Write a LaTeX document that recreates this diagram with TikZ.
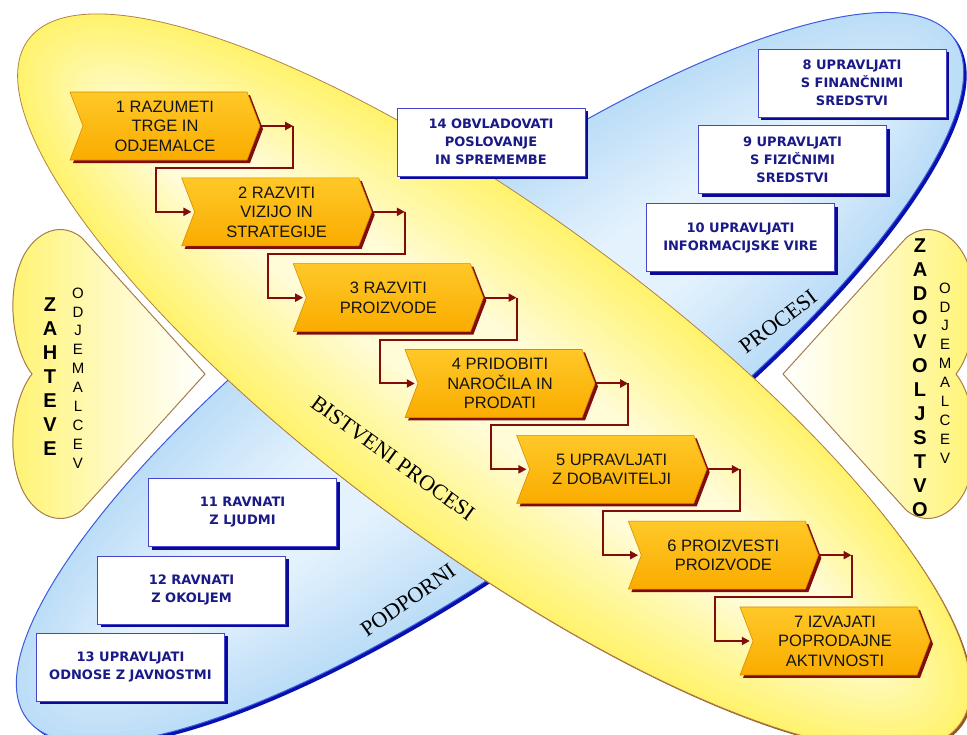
\documentclass[tikz,border=0pt]{standalone}
\usepackage{fontspec}
\setmainfont{Liberation Sans}
\newfontfamily\boxfont{DejaVu Sans}
\newfontfamily\labelserif{Liberation Serif}
\usetikzlibrary{arrows.meta,calc}

\definecolor{yedge}{RGB}{255,243,110}
\definecolor{yinner}{RGB}{255,252,215}
\definecolor{bedge}{RGB}{188,221,247}
\definecolor{binner}{RGB}{228,242,253}
\definecolor{bshadow}{RGB}{8,16,176}
\definecolor{bline}{RGB}{60,90,220}
\definecolor{yline}{RGB}{176,130,70}
\definecolor{yshadow}{RGB}{150,85,30}
\definecolor{heartline}{RGB}{165,125,75}
\definecolor{chevtop}{RGB}{255,200,40}
\definecolor{chevbot}{RGB}{250,172,0}
\definecolor{chevline}{RGB}{215,140,0}
\definecolor{maroon}{RGB}{130,12,12}
\definecolor{boxline}{RGB}{70,70,205}
\definecolor{boxshadow}{RGB}{10,10,150}
\definecolor{boxtext}{RGB}{25,25,135}
\definecolor{chevtext}{RGB}{20,20,20}

\begin{document}
\begin{tikzpicture}[x=1pt,y=-1pt,
  chevlabel/.style={align=center, font=\fontsize{16.5}{19.5}\selectfont,
    text=chevtext, minimum width=190pt, minimum height=68pt, inner sep=0pt},
  procbox/.style={draw=boxline, line width=1pt, fill=white,
    minimum width=188pt, minimum height=68pt, inner sep=0pt, align=center,
    font=\boxfont\bfseries\fontsize{13}{18}\selectfont, text=boxtext,
    preaction={fill=boxshadow, transform canvas={xshift=3pt,yshift=-3pt}}},
  conn/.style={draw=maroon, line width=2pt, -{Triangle[length=8pt,width=8pt]}},
  bigletters/.style={align=center, font=\bfseries\fontsize{20}{24}\selectfont, text=black},
  smallletters/.style={align=center, font=\fontsize{15}{18.9}\selectfont, text=black},
  rotlabel/.style={font=\labelserif\fontsize{22}{22}\selectfont, text=black, inner sep=0pt},
  heart/.style={draw=heartline, line width=1pt}
]
\useasboundingbox (0,0) rectangle (967,734);
\clip (0,0) rectangle (967,734);

% supporting processes: blue ellipse with its dark shadow edge
\fill[bshadow, rotate around={36.3:(493,381)}] (493,381) ellipse [x radius=575, y radius=165];
\foreach \k in {0,...,30} {
  \pgfmathsetmacro\d{\k*4}
  \pgfmathtruncatemacro\p{\k*100/30}
  \fill[binner!\p!bedge, rotate around={36.3:(490,378)}] (490,378) ellipse [x radius={575-\d}, y radius={165-\d}];
}
\draw[bline, line width=1pt, rotate around={36.3:(490,378)}] (490,378) ellipse [x radius=575, y radius=165];

% core processes: yellow ellipse
\fill[yshadow, rotate around={-36.3:(496,384)}] (496,384) ellipse [x radius=578, y radius=168];
\foreach \k in {0,...,30} {
  \pgfmathsetmacro\d{\k*4}
  \pgfmathtruncatemacro\p{\k*100/30}
  \fill[yinner!\p!yedge, rotate around={-36.3:(494,382)}] (494,382) ellipse [x radius={578-\d}, y radius={168-\d}];
}
\draw[yline, line width=0.8pt, rotate around={-36.3:(494,382)}] (494,382) ellipse [x radius=578, y radius=168];

% customer hearts
\shade[heart, left color=yedge, right color=white, middle color=yedge!45!white]
  (32,374) .. controls (14,351) and (6,300) .. (20,264)
  .. controls (30,236) and (58,218) .. (82,238) -- (205,374) -- (82,510)
  .. controls (58,530) and (30,512) .. (20,484)
  .. controls (6,448) and (14,397) .. (32,374) -- cycle;
\shade[heart, left color=white, right color=yedge, middle color=yedge!45!white]
  (956,374) .. controls (974,351) and (982,300) .. (968,264)
  .. controls (958,236) and (930,218) .. (906,238) -- (783,374) -- (906,510)
  .. controls (930,530) and (958,512) .. (968,484)
  .. controls (982,448) and (974,397) .. (956,374) -- cycle;

\node[bigletters] (zl) at (50,377) {Z\\A\\H\\T\\E\\V\\E};
\node[smallletters] (ol) at (78,378) {O\\D\\J\\E\\M\\A\\L\\C\\E\\V};
\node[bigletters] (zr) at (920,377.5) {Z\\A\\D\\O\\V\\O\\L\\J\\S\\T\\V\\O};
\node[smallletters] (or) at (945,373) {O\\D\\J\\E\\M\\A\\L\\C\\E\\V};

% supporting process boxes
\node[procbox] (p8)  at (852,83)    {8 UPRAVLJATI\\S FINANČNIMI\\SREDSTVI};
\node[procbox] (p9)  at (792.5,159.5) {9 UPRAVLJATI\\S FIZIČNIMI\\SREDSTVI};
\node[procbox] (p10) at (740.5,237.5) {10 UPRAVLJATI\\INFORMACIJSKE VIRE};
\node[procbox] (p11) at (242.5,512.5) {11 RAVNATI\\Z LJUDMI};
\node[procbox] (p12) at (191.5,590)   {12 RAVNATI\\Z OKOLJEM};
\node[procbox] (p13) at (130.5,667)   {13 UPRAVLJATI\\ODNOSE Z JAVNOSTMI};
\node[procbox] (p14) at (491,142)     {14 OBVLADOVATI\\POSLOVANJE\\IN SPREMEMBE};

% core process chevrons
\foreach \i/\lbl in {1/{1 RAZUMETI\\TRGE IN\\ODJEMALCE},
                     2/{2 RAZVITI\\VIZIJO IN\\STRATEGIJE},
                     3/{3 RAZVITI\\PROIZVODE},
                     4/{4 PRIDOBITI\\NAROČILA IN\\PRODATI},
                     5/{5 UPRAVLJATI\\Z DOBAVITELJI},
                     6/{6 PROIZVESTI\\PROIZVODE},
                     7/{7 IZVAJATI\\POPRODAJNE\\AKTIVNOSTI}} {
  \pgfmathsetmacro\xa{70+111.67*(\i-1)}
  \pgfmathsetmacro\ya{92+85.83*(\i-1)}
  \fill[maroon] ({\xa+3},{\ya+3}) -- ++(177,0) -- ++(13,34) -- ++(-13,34)
    -- ++(-177,0) -- ++(13,-34) -- cycle;
  \shade[top color=chevtop, bottom color=chevbot, draw=chevline, line width=0.6pt]
    (\xa,\ya) -- ++(177,0) -- ++(13,34) -- ++(-13,34)
    -- ++(-177,0) -- ++(13,-34) -- cycle;
  \node[chevlabel] (c\i) at ({\xa+95},{\ya+34}) {\lbl};
}

% flow between the chevrons
\foreach \i [evaluate=\i as \j using int(\i+1)] in {1,...,6} {
  \draw[conn] (c\i.east) -- ++(33,0) coordinate (t\i);
  \draw[conn] (t\i) -- ++(0,42) -| ($(c\j.west)+(-25,0)$) -- ($(c\j.west)+(10,0)$);
}

% group labels
\node[rotlabel, rotate=-36] (bp) at (393,458) {BISTVENI PROCESI};
\node[rotlabel, rotate=37] (pr) at (778,322) {PROCESI};
\node[rotlabel, rotate=35] (pd) at (408,600) {PODPORNI};
\end{tikzpicture}
\end{document}
